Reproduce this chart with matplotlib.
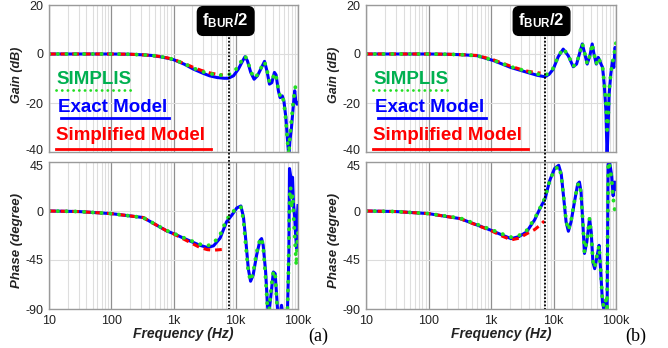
import numpy as np
import matplotlib
matplotlib.use("Agg")
import matplotlib.pyplot as plt
from matplotlib.lines import Line2D
from matplotlib.ticker import LogLocator, FixedLocator, FixedFormatter, NullFormatter
import matplotlib.transforms as mtransforms

plt.rcParams['font.family'] = ['Liberation Sans', 'DejaVu Sans']
plt.rcParams['mathtext.fontset'] = 'custom'
plt.rcParams['mathtext.rm'] = 'Liberation Sans:bold'
plt.rcParams['mathtext.bf'] = 'Liberation Sans:bold'
plt.rcParams['mathtext.it'] = 'Liberation Sans:bold'

# -----------------------------------------------------------------------------
# (a) gain, dB

a_gain_exact_f = [10, 30, 100, 200, 300, 450, 600, 800, 1000, 1500, 2100, 3000, 3800, 5000,
                  6500, 7600, 9200, 11000, 12900, 14100, 15400, 17400, 19700, 22300, 26300,
                  29000, 31700, 34800, 38000, 41800, 44400, 48400, 51500, 55900, 59400, 63900,
                  68000, 71300, 74000, 78600, 83500, 88500, 91900, 96500, 100000]
a_gain_exact = [0, 0, 0, -0.1, -0.3, -0.6, -1.1, -1.7, -2.3, -4.2, -6.2, -7.9, -8.9, -9.6,
                -9.9, -9.9, -8.9, -6.2, -2.8, -1.1, -2.8, -7.5, -10.3, -8.9, -5.2,
                -3.0, -6.9, -12.3, -11.7, -7.5, -8.5, -15, -17.8, -17.1, -19.2, -26,
                -35.6, -42, -35.6, -30, -22, -15, -19, -20.5, -20]

a_gain_simp_f = [10, 30, 100, 200, 300, 450, 600, 800, 1000, 1500, 2100, 2800, 3800, 5000, 6200]
a_gain_simp = [0, 0, 0, -0.1, -0.3, -0.6, -1.0, -1.6, -2.2, -3.9, -5.5, -6.7, -7.7, -8.3, -8.6]

a_gain_simplis_f = [10, 30, 100, 200, 300, 450, 600, 800, 1000, 1500, 2100, 3000, 3800, 5000,
                    6500, 7600, 9200, 11000, 12900, 14100, 15400, 17400, 19700, 22300, 26300,
                    29000, 31700, 34800, 38000, 41800, 44400, 48400, 51500, 55900, 59400, 63900,
                    68000, 71300, 74000, 78600, 83500, 88500, 93000, 100000]
a_gain_simplis = [0, 0, 0, -0.1, -0.3, -0.6, -1.0, -1.6, -2.2, -4.0, -5.8, -7.3, -8.0, -8.5,
                  -8.7, -8.5, -7.5, -5.0, -2.0, -0.8, -2.5, -7.0, -9.8, -8.5, -5.0,
                  -3.2, -6.5, -11.5, -11.0, -7.8, -9.0, -14.5, -17, -16.5, -20, -27,
                  -36, -41, -34, -27, -20, -15, -12, -12]

# (a) phase, degree
a_ph_exact_f = [10, 30, 100, 325, 780, 1000, 1600, 2650, 3500, 4400, 5600, 7100, 8600, 10400,
                12100, 13300, 14400, 15900, 17300, 19000, 21600, 24500, 26000, 27600, 30200,
                32500, 34000, 36800, 40200, 43000, 45700, 47500, 51000, 54400, 57000, 67500,
                71300, 73000, 75900, 78600, 81700, 84800, 88100, 91500, 95000, 98600, 100000]
a_ph_exact = [0, -0.5, -2.4, -6, -18.3, -20.8, -26, -31.5, -33.5, -32, -25, -10, -4, 2.8,
              4.6, -5.5, -25, -53, -64.5, -59, -40.7, -27, -25.3, -31.5, -56,
              -88, -95, -77, -56, -57.5, -80.4, -95, -95, -86.6, -95, -95,
              -40.7, 39, 32.8, 14.4, 31, 5.2, -4, -22, -34.5, -1, 5]

a_ph_simp_f = [10, 30, 100, 325, 780, 1000, 1600, 2650, 3500, 4400, 5600, 7100]
a_ph_simp = [0, -0.5, -2.4, -6, -18.3, -21, -27, -33.5, -35.5, -36, -35.5, -35]

a_ph_simplis_f = [10, 30, 100, 325, 780, 1000, 1600, 2650, 3500, 4400, 5600, 7100, 8600, 10400,
                  12100, 13300, 14400, 15900, 17300, 19000, 21600, 24500, 26000, 27600, 30200,
                  32500, 34000, 36800, 40200, 43000, 45700, 47500, 54400, 60000, 67500, 70000,
                  72000, 74000, 76000, 79000, 82000, 85000, 88000, 91000, 94000, 97000, 100000]
a_ph_simplis = [0, -0.5, -2.4, -6, -18, -20.5, -25.5, -30.5, -32, -29.5, -22, -8, -2, 3,
                3.5, -8, -30, -56, -64, -57, -38, -26, -25, -33, -62,
                -90, -95, -72, -55, -58, -84, -95, -95, -95, -93, -60,
                -10, 18, 22, 5, 15, -5, -20, -35, -50, -30, -20]

# -----------------------------------------------------------------------------
# (b) gain, dB

b_gain_exact_f = [10, 30, 100, 200, 350, 600, 1100, 2070, 3800, 5500, 7300, 8500, 9900, 11900,
                  14300, 17200, 20700, 23400, 26900, 28900, 31700, 34600, 38200, 41600, 44400,
                  48400, 52000, 54500, 57500, 61000, 64800, 69000, 72000, 74800, 77600, 82600,
                  87900, 92300, 96800, 100000]
b_gain_exact = [0, 0, 0, -0.1, -0.3, -0.7, -2.7, -5.5, -7.5, -8.7, -9.3, -8.3, -6.2, -1.1,
                2.0, -0.7, -5.2, -4.1, 1.4, 4.1, 0, -4.1, -0.7, 4.1, 0,
                -4.1, -1.4, -2.5, -4.1, -5.5, -12.3, -23.3, -42, -30, -16.4, -8.2,
                -2.8, -5.5, 2.7, 0]

b_gain_simp_f = [10, 30, 100, 200, 350, 600, 1100, 2070, 3000, 3800, 5000, 6200]
b_gain_simp = [0, 0, 0, -0.1, -0.3, -0.6, -2.4, -5.0, -6.3, -7.0, -7.5, -7.8]

b_gain_simplis_f = [10, 30, 100, 200, 350, 600, 1100, 2070, 3800, 5500, 7300, 8500, 9900, 11900,
                    14300, 17200, 20700, 23400, 26900, 28900, 31700, 34600, 38200, 41600, 44400,
                    48400, 52000, 54500, 57500, 61000, 64800, 69000, 72000, 74800, 77600, 82600,
                    87900, 92300, 96800, 100000]
b_gain_simplis = [0, 0, 0, -0.1, -0.3, -0.7, -2.6, -5.2, -7.1, -8.2, -8.7, -7.8, -5.8, -1.0,
                  2.2, -0.5, -5.0, -4.0, 1.5, 4.3, 0.2, -4.0, -0.5, 4.2, 0.2,
                  -4.0, -1.5, -2.5, -4.0, -5.5, -12, -20, -31, -27, -15, -8,
                  -3, -2, 3, 4.5]

# (b) phase, degree
b_ph_exact_f = [10, 30, 100, 320, 1000, 1500, 2100, 2800, 3700, 5000, 6100, 7300, 8700, 10400,
                12100, 13300, 14600, 15900, 17300, 19100, 21600, 24400, 26000, 27600, 29400,
                31300, 34100, 37700, 40100, 42700, 45600, 50400, 53600, 57000, 60700, 63700,
                68700, 72000, 74800, 77500, 85000, 90000, 96000, 100000]
b_ph_exact = [0, -0.5, -2.4, -7, -17.7, -22, -25.4, -23.5, -19.3, -8, 2.5, 11, 28, 39,
              42, 34, 11.4, -10, -18.6, -10, 8, 25, 26.6, 17.5, -10,
              -39, -28.5, -7, -19, -47, -53, -40, -31.5, -56, -83.5, -90,
              -83.5, -95, 42, 48, 33, 14, 26.6, 20]

b_ph_simp_f = [10, 30, 100, 320, 1000, 1500, 2100, 2800, 3700, 5000, 6100, 7100]
b_ph_simp = [0, -0.5, -2.4, -7, -18, -23, -26.5, -25, -21, -17, -13, -9.2]

b_ph_simplis_f = [10, 30, 100, 320, 1000, 1500, 2100, 2800, 3700, 5000, 6100, 7300, 8700, 10400,
                  12100, 13300, 14600, 15900, 17300, 19100, 21600, 24400, 26000, 27600, 29400,
                  31300, 34100, 37700, 40100, 42700, 45600, 50400, 53600, 57000, 60700, 63700,
                  68700, 72000, 74800, 77500, 85000, 90000, 96000, 100000]
b_ph_simplis = [0, -0.5, -2.4, -6.5, -17, -21, -24, -22.5, -18, -7, 3, 12, 28, 38,
                41, 33, 12, -9, -17.5, -9, 9, 24, 25.5, 16, -9,
                -38, -28, -7, -20, -46, -52, -39, -32, -55, -82, -88,
                -82, -93, 40, 45, 30, 12, 0, -5]

f_half_bur = [7700, 7200]

f_ticks = [10, 100, 1000, 10000, 100000]
f_labels = ["10", "100", "1k", "10k", "100k"]
gain_ticks = [20, 0, -20, -40]
phase_ticks = [45, 0, -45, -90]

panels = [
    (a_gain_exact_f, a_gain_exact, a_gain_simp_f, a_gain_simp, a_gain_simplis_f, a_gain_simplis,
     a_ph_exact_f, a_ph_exact, a_ph_simp_f, a_ph_simp, a_ph_simplis_f, a_ph_simplis),
    (b_gain_exact_f, b_gain_exact, b_gain_simp_f, b_gain_simp, b_gain_simplis_f, b_gain_simplis,
     b_ph_exact_f, b_ph_exact, b_ph_simp_f, b_ph_simp, b_ph_simplis_f, b_ph_simplis),
]

# -----------------------------------------------------------------------------
# layout in pixels

W, H = 668, 348
fig = plt.figure(figsize=(W / 100, H / 100), dpi=100)

def fx(x):
    return x / W

def fy(y):
    return 1 - y / H

def box(x0, x1, ytop, ybot):
    return [fx(x0), fy(ybot), fx(x1 - x0), (ybot - ytop) / H]

BLUE = "#0000ff"
RED = "#ff0000"
GREEN = "#22e022"
GREEN_TXT = "#00b050"

panel_x = [(49, 298), (366, 616)]
tags = ["(a)", "(b)"]

def nudge(label, dy_px):
    label.set_transform(label.get_transform() +
                        mtransforms.ScaledTranslation(0, dy_px / 100, fig.dpi_scale_trans))

def style_axes(ax, yticks, ylim, show_x):
    ax.set_xscale("log")
    ax.set_xlim(10, 100000)
    ax.set_ylim(*ylim)
    ax.xaxis.set_major_locator(FixedLocator(f_ticks))
    ax.xaxis.set_minor_locator(LogLocator(base=10, subs=range(2, 10)))
    ax.xaxis.set_minor_formatter(NullFormatter())
    if show_x:
        ax.xaxis.set_major_formatter(FixedFormatter(f_labels))
    else:
        ax.xaxis.set_major_formatter(NullFormatter())
    ax.set_yticks(yticks)
    ax.set_yticklabels([str(t) for t in yticks])
    ax.tick_params(which="both", length=0, labelsize=9, colors="#222222", pad=4)
    ax.grid(which="major", axis="x", color="#909090", lw=0.9)
    ax.grid(which="minor", axis="x", color="#dedede", lw=0.8)
    ax.grid(which="major", axis="y", color="#dcdcdc", lw=0.8)
    ax.set_axisbelow(True)
    for s in ax.spines.values():
        s.set_color("#9a9a9a")
        s.set_linewidth(1.0)

def draw(ax, fe, ve, fs, vs, fm, vm):
    ax.plot(fe, ve, color=BLUE, lw=2.2, solid_joinstyle="round")
    ax.plot(fs, vs, color=RED, lw=2.2, ls=(0, (2.2, 1.6)))
    ax.plot(fm, vm, color=GREEN, lw=2.8, ls=(0, (0.05, 2.2)), dash_capstyle="round")

for i, (x0, x1) in enumerate(panel_x):
    d = panels[i]
    axg = fig.add_axes(box(x0, x1, 5, 152))
    axp = fig.add_axes(box(x0, x1, 162, 309))
    style_axes(axg, gain_ticks, (-40, 20), False)
    style_axes(axp, phase_ticks, (-90, 45), True)
    draw(axg, *d[0:6])
    draw(axp, *d[6:12])

    # keep the -40 and 45 labels apart at the seam between the plots
    nudge(axg.get_yticklabels()[-1], 2)
    nudge(axp.get_yticklabels()[0], -3)

    # f_BUR/2 marker running through both plots
    tr = mtransforms.blended_transform_factory(axg.transData, fig.transFigure)
    fig.add_artist(Line2D([f_half_bur[i], f_half_bur[i]], [fy(30), fy(309)], transform=tr,
                          color="black", lw=1.3, ls=(0, (1, 1))))
    fig.text(f_half_bur[i] * 10 ** (-3 / 62.3), fy(21), r"$\mathbf{f_{BUR}/2}$",
             transform=tr, ha="center", va="center", color="white", fontsize=12,
             bbox=dict(boxstyle="round,pad=0.3,rounding_size=0.35", fc="black", ec="black"))

    # axis titles
    xc = (x0 + x1) / 2 + 10
    fig.text(fx(xc), fy(334), "Frequency (Hz)", ha="center", va="center",
             fontsize=10, fontweight="bold", fontstyle="italic", color="#222222")
    fig.text(fx(x0 - 32), fy(75), "Gain (dB)", ha="center", va="center", rotation=90,
             fontsize=9, fontweight="bold", fontstyle="italic", color="#222222")
    fig.text(fx(x0 - 32), fy(240), "Phase (degree)", ha="center", va="center", rotation=90,
             fontsize=9.5, fontweight="bold", fontstyle="italic", color="#222222")
    fig.text(fx(x1 + 20), fy(336), tags[i], ha="center", va="center",
             fontsize=13, family="Liberation Serif")

    # legend written as coloured text with underlines
    lx = x0 + 7
    fig.text(fx(lx), fy(79), "SIMPLIS", color=GREEN_TXT, fontsize=13.5,
             fontweight="bold", va="center", ha="left")
    fig.add_artist(Line2D([fx(lx), fx(lx + 75)], [fy(89.5), fy(89.5)], color=GREEN,
                          lw=2.0, ls=(0, (0.05, 2.0)), dash_capstyle="round"))
    fig.text(fx(lx + 2), fy(108), "Exact Model", color=BLUE, fontsize=13.5,
             fontweight="bold", va="center", ha="left")
    fig.add_artist(Line2D([fx(lx + 5), fx(lx + 113)], [fy(117.5), fy(117.5)], color=BLUE, lw=2.0))
    fig.text(fx(lx), fy(136), "Simplified Model", color=RED, fontsize=13.5,
             fontweight="bold", va="center", ha="left")
    fig.add_artist(Line2D([fx(lx), fx(lx + 155)], [fy(148.5), fy(148.5)], color=RED, lw=2.0))

fig.savefig("out.png", dpi=100)
